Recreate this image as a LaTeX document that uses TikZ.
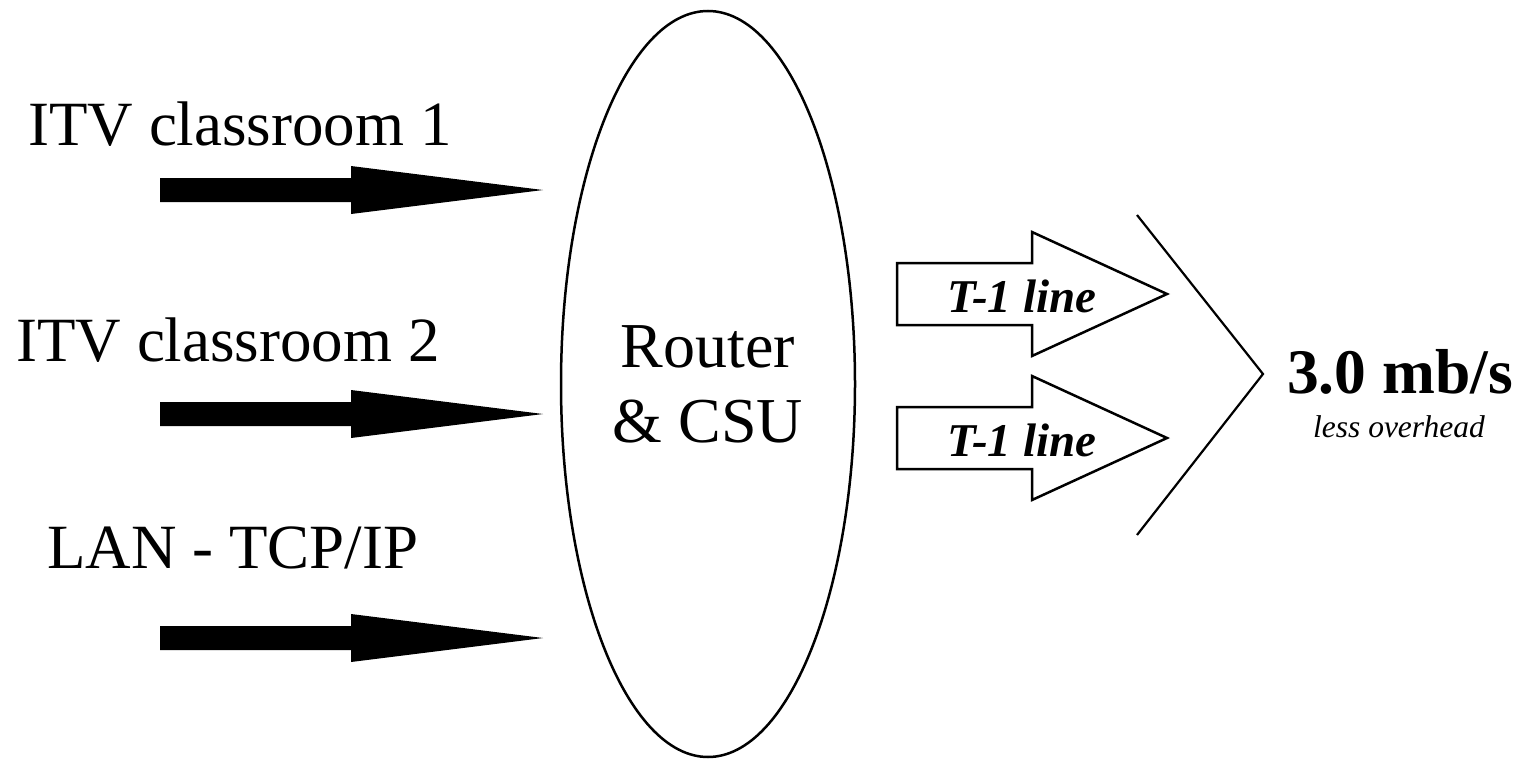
\documentclass[tikz,border=0pt]{standalone}
\usepackage{fontspec}
\setmainfont{Liberation Serif}
\usetikzlibrary{shapes.geometric,calc}
\begin{document}
\begin{tikzpicture}[x=1pt,y=-1pt,
  biglbl/.style={font=\fontsize{63}{70}\selectfont, inner sep=0, anchor=base},
  tline/.style={font=\fontsize{47}{50}\selectfont\bfseries\itshape, inner sep=0, anchor=base},
  hollow/.style={draw, line width=2.5pt, line join=miter, fill=white},
  thin/.style={draw, line width=2.2pt}]
\useasboundingbox (0,0) rectangle (1524,760);
\fill[white] (0,0) rectangle (1524,760);

% input labels
\node[biglbl] (itv1) at (240,145) {ITV classroom 1};
\node[biglbl] (itv2) at (228,361) {ITV classroom 2};
\node[biglbl] (lan)  at (233,568) {LAN - TCP/IP};

% router ellipse
\node[draw, ellipse, line width=2.5pt, minimum width=294pt, minimum height=746pt,
      inner sep=0, align=center, font=\fontsize{64}{75}\selectfont] (router) at (708,384) {Router\\\& CSU};

% black input arrows
\foreach \n/\y in {a/190, b/414, c/638} {
  \coordinate (\n s) at (160,\y);
  \coordinate (\n t) at (543,\y);
  \fill ($(\n s)+(0,-12)$) -- (351,\y-12) -- (351,\y-24) -- (\n t) -- (351,\y+24) -- (351,\y+12) -- ($(\n s)+(0,12)$) -- cycle;
}

% hollow T-1 arrows
\foreach \n/\y in {p/294, q/438} {
  \coordinate (\n s) at (897,\y);
  \coordinate (\n t) at (1167,\y);
  \path[hollow] ($(\n s)+(0,-31)$) -- (1032,\y-31) -- (1032,\y-62) -- (\n t) -- (1032,\y+62) -- (1032,\y+31) -- ($(\n s)+(0,31)$) -- cycle;
  \node[tline] (\n lbl) at (1022,\y+18) {T-1 line};
}

% chevron
\coordinate (ctop) at (1137,215);
\coordinate (capex) at (1263,374);
\coordinate (cbot) at (1137,535);
\draw[thin] (ctop) -- (capex) -- (cbot);

% rate
\node[inner sep=0, anchor=base, font=\fontsize{63.5}{70}\selectfont\bfseries] (rate) at (1400,393) {3.0 mb/s};
\node[inner sep=0, anchor=base, font=\fontsize{31.5}{35}\selectfont\itshape] (ovh) at (1399,437) {less overhead};
\end{tikzpicture}
\end{document}
